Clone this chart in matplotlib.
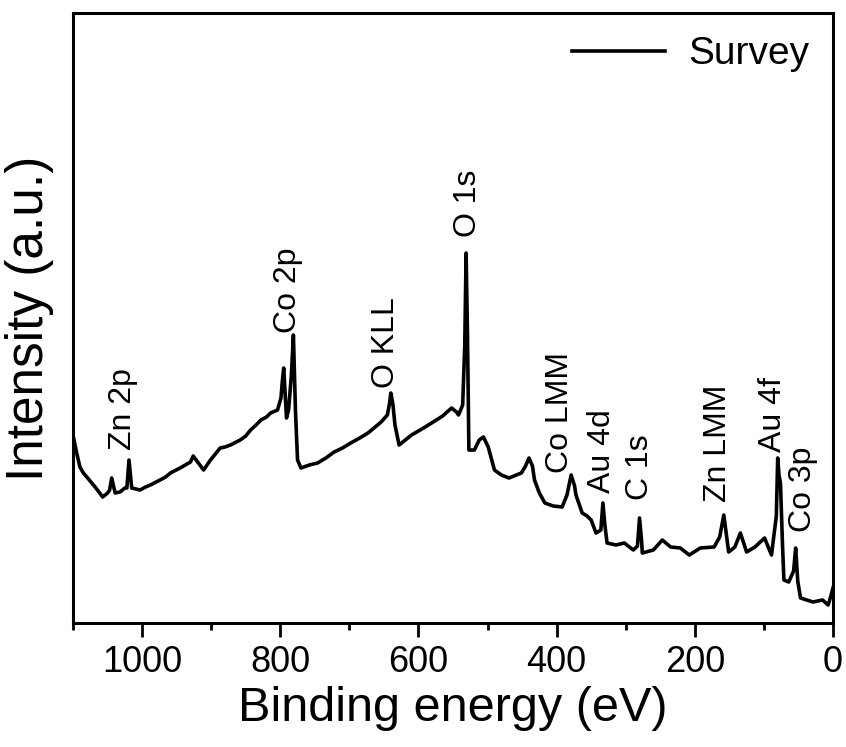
import numpy as np
import matplotlib
matplotlib.use('Agg')
import matplotlib.pyplot as plt
from matplotlib.ticker import MultipleLocator

plt.rcParams['font.family'] = ['Liberation Sans', 'DejaVu Sans']

# survey spectrum (binding energy in eV, intensity in a.u.)
energy = [1100, 1095, 1090, 1085, 1080, 1068, 1057, 1050, 1047, 1044, 1039,
          1032, 1025, 1022, 1019, 1015, 1003, 995, 988, 974, 966, 959, 945,
          930, 926, 911, 901, 887, 880, 872, 858, 850, 843, 835, 828, 820,
          814, 804, 799, 797, 795, 791, 788, 784, 781, 778, 775, 770,
          758, 746, 734, 722, 710, 698, 685, 673, 654, 645, 642, 640, 637,
          634, 628, 610, 595, 581, 565, 552, 545, 542, 536, 533, 531, 529,
          527, 519, 512, 506, 499, 490, 480, 469, 451, 445, 440, 435, 432,
          425, 417, 405, 392, 385, 379, 374, 372, 363, 356, 350, 343, 336,
          333, 330, 327, 314, 302, 289, 283, 280, 277, 276, 260, 247, 235,
          221, 208, 192, 172, 164, 158, 154, 151, 142, 134, 125, 113, 99,
          89, 82, 80, 78, 76, 73, 71, 64, 57, 54, 51, 47, 29, 15, 7, 3, 0]
intensity = [191, 174, 159, 153, 149, 139, 129, 133, 136, 148, 133,
             134, 138, 138, 166, 138, 136, 139, 141, 146, 149, 153, 158,
             164, 170, 156, 166, 178, 179, 181, 186, 190, 196, 201, 206, 209,
             213, 216, 228, 245, 258, 208, 216, 250, 291, 215, 166, 158,
             161, 163, 168, 174, 178, 183, 188, 193, 204, 211, 222, 233, 222,
             201, 181, 191, 197, 203, 210, 218, 214, 211, 221, 280, 373, 290,
             176, 176, 186, 189, 179, 156, 151, 148, 153, 160, 168, 160, 146,
             133, 123, 120, 119, 131, 151, 140, 131, 113, 110, 106, 93, 96,
             123, 100, 83, 81, 83, 76, 80, 108, 85, 73, 76, 86, 79,
             78, 71, 78, 79, 89, 111, 90, 74, 79, 93, 74, 79, 88,
             71, 110, 168, 150, 143, 80, 46, 44, 55, 78, 45, 28, 24, 26, 21, 30, 38]

peak_names = ['Zn 2p', 'Co 2p', 'O KLL', 'O 1s', 'Co LMM', 'Au 4d',
              'C 1s', 'Zn LMM', 'Au 4f', 'Co 3p']
peak_pos = [1028, 789, 647, 528, 395, 334, 280, 167, 87, 44]
peak_height = [176, 293, 238, 389, 153, 133, 126, 124, 174, 94]

fig = plt.figure(figsize=(8.46, 7.47), dpi=100)
ax = fig.add_axes([0.0863, 0.166, 0.8983, 0.8166])

ax.plot(energy, intensity, color='black', lw=2.6, label='Survey')

for name, pos, h in zip(peak_names, peak_pos, peak_height):
    ax.text(pos, h, name, rotation=90, ha='center', va='bottom', fontsize=23)

ax.set_xlim(1100, 0)
ax.set_ylim(3, 613)
ax.xaxis.set_major_locator(MultipleLocator(200))
ax.xaxis.set_minor_locator(MultipleLocator(100))
ax.tick_params(axis='x', which='major', direction='out', length=10, width=2,
               labelsize=26, pad=6, top=False)
ax.tick_params(axis='x', which='minor', direction='out', length=5, width=2,
               top=False)
ax.set_yticks([])
for sp in ax.spines.values():
    sp.set_linewidth(2.2)

ax.set_xlabel('Binding energy (eV)', fontsize=35, labelpad=4)
ax.set_ylabel('Intensity (a.u.)', fontsize=37, labelpad=14)

ax.legend(loc='upper right', frameon=False, fontsize=28, handlelength=2.4,
          borderaxespad=0.2, handletextpad=0.6)

fig.savefig('out.png', dpi=100)
